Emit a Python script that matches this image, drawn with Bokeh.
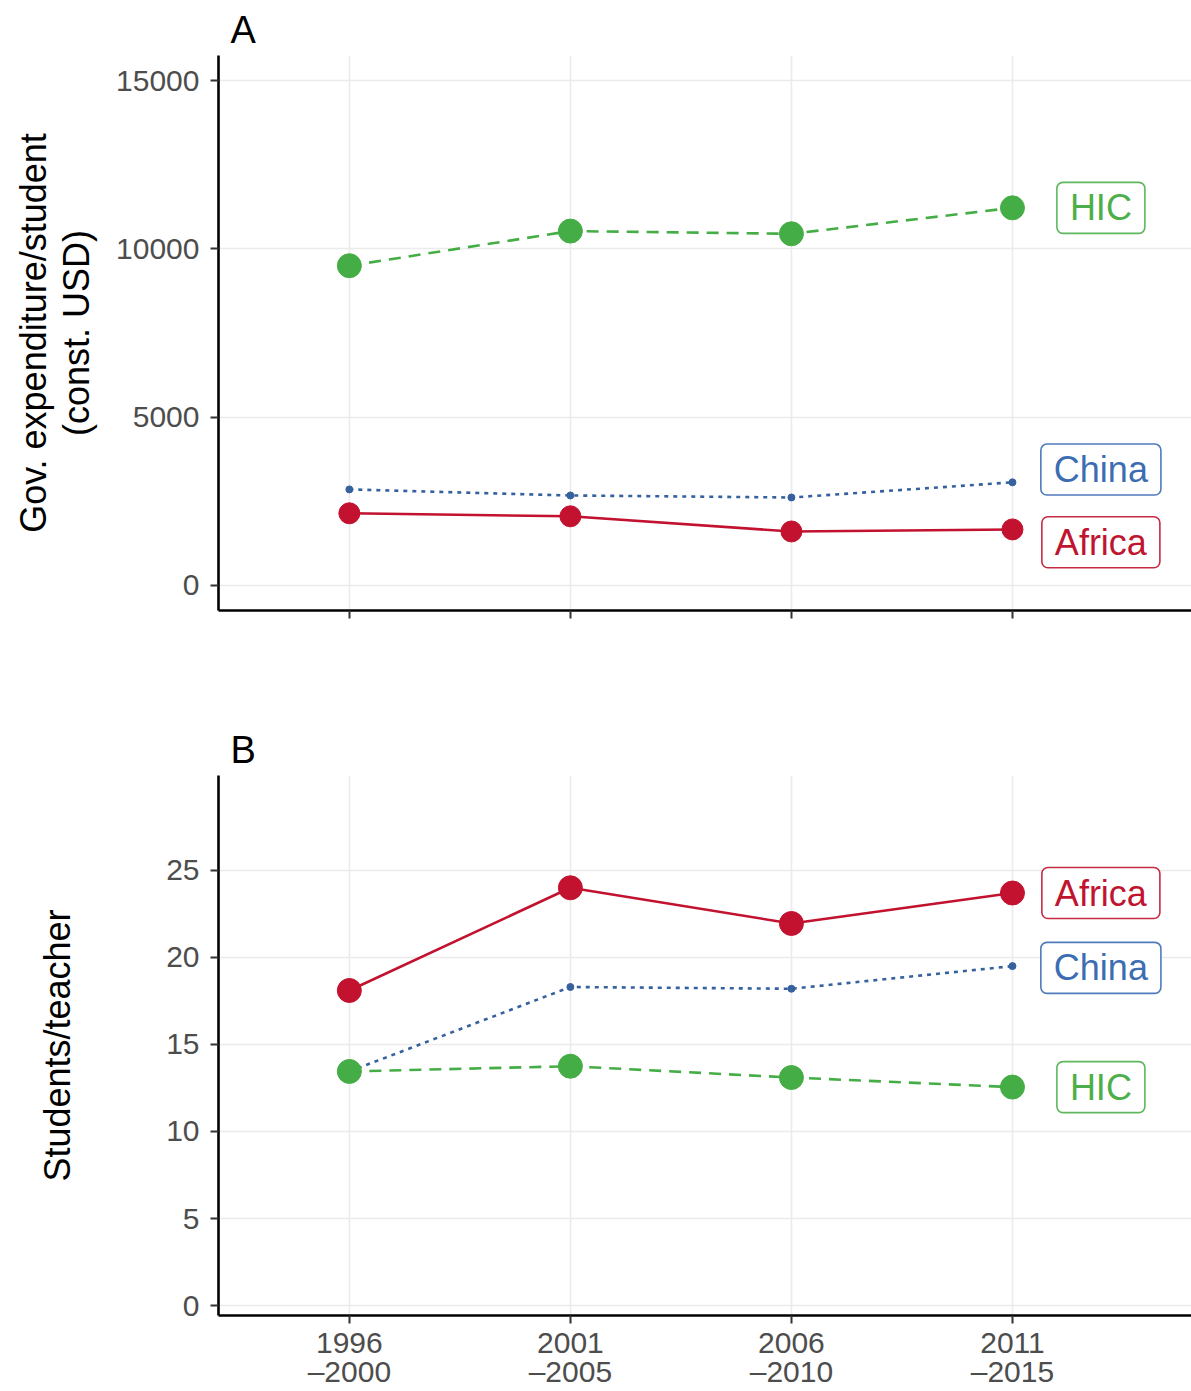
from bokeh.plotting import figure
from bokeh.models import Range1d, FixedTicker, Label, CustomJSTickFormatter
from bokeh.layouts import column
from bokeh.embed import file_html
from bokeh.resources import INLINE

# ---------------- data ----------------
years = [1996, 2001, 2006, 2011]
period_labels = ["1996\n\u20132000", "2001\n\u20132005", "2006\n\u20132010", "2011\n\u20132015"]

series_names = ["HIC", "China", "Africa"]

# Panel A: Gov. expenditure per student (const. USD)
exp_hic = [9500, 10530, 10450, 11220]
exp_china = [2850, 2670, 2610, 3060]
exp_africa = [2140, 2050, 1600, 1660]

# Panel B: students per teacher
ratio_africa = [18.1, 24.0, 21.95, 23.7]
ratio_china = [13.45, 18.3, 18.2, 19.5]
ratio_hic = [13.45, 13.75, 13.1, 12.55]

yticks_a = [0, 5000, 10000, 15000]
yticks_b = [0, 5, 10, 15, 20, 25]

# ---------------- style ----------------
FONT = "Liberation Sans"
GREEN = "#45AD45"
BLUE = "#35629F"
RED = "#C2122F"
TXT_GREEN = "#4DAF4A"
TXT_BLUE = "#3C6DB3"
TXT_RED = "#C0142F"

LABEL_X = 2013.0


def style(p, yticks):
    p.outline_line_color = None
    p.background_fill_color = "white"
    p.border_fill_color = "white"
    for g in (p.xgrid, p.ygrid):
        g.grid_line_color = "#EBEBEB"
        g.grid_line_width = 1.6
    p.xaxis.ticker = FixedTicker(ticks=years)
    p.yaxis.ticker = FixedTicker(ticks=yticks)
    for ax in (p.xaxis, p.yaxis):
        ax.axis_line_color = "black"
        ax.axis_line_width = 2.6
        ax.major_tick_line_color = "#333333"
        ax.major_tick_line_width = 2
        ax.major_tick_out = 8
        ax.major_tick_in = 0
        ax.minor_tick_line_color = None
        ax.major_label_text_font = FONT
        ax.major_label_text_font_size = "30px"
        ax.major_label_text_color = "#4D4D4D"
        ax.axis_label_text_font = FONT
        ax.axis_label_text_font_size = "36px"
        ax.axis_label_text_font_style = "normal"
        ax.axis_label_text_color = "black"
    p.yaxis.major_label_standoff = 11
    p.title.text_font = FONT
    p.title.text_font_size = "38px"
    p.title.text_font_style = "normal"
    p.title.text_color = "black"
    p.title.align = "left"
    p.title.offset = 12
    p.title.standoff = 10


def add_tag(p, y, text, tcolor):
    p.add_layout(Label(x=LABEL_X, y=y, text=text, text_align="center",
                       text_baseline="middle", text_font=FONT,
                       text_font_size="36px", text_color=tcolor,
                       border_line_color=tcolor, border_line_width=1.6,
                       border_line_alpha=0.9,
                       background_fill_color="white", padding=(13, 5),
                       border_radius=6))


# ---------------- panel A ----------------
pA = figure(width=1191, height=648, output_backend="svg", toolbar_location=None,
            x_range=Range1d(1993.04, 2015.05), y_range=Range1d(-750, 15750),
            title="A", min_border_left=218, min_border_right=0,
            min_border_top=55, min_border_bottom=38)
style(pA, yticks_a)
pA.xaxis.formatter = CustomJSTickFormatter(code="return ''")
pA.yaxis.axis_label = "Gov. expenditure/student\n(const. USD)"
pA.yaxis.axis_label_standoff = 16
pA.yaxis.axis_label_text_line_height = 1.05

pA.line(years, exp_hic, line_color=GREEN, line_width=2.6, line_dash="12 8")
pA.scatter(years, exp_hic, size=24, fill_color=GREEN, line_color=GREEN)
pA.line(years, exp_china, line_color=BLUE, line_width=2.6, line_dash="4 5")
pA.scatter(years, exp_china, size=7, fill_color=BLUE, line_color=BLUE)
pA.line(years, exp_africa, line_color=RED, line_width=2.6)
pA.scatter(years, exp_africa, size=21, fill_color=RED, line_color=RED)

add_tag(pA, exp_hic[-1], "HIC", TXT_GREEN)
add_tag(pA, 3440, "China", TXT_BLUE)
add_tag(pA, 1280, "Africa", TXT_RED)

# ---------------- panel B ----------------
pB = figure(width=1191, height=743, output_backend="svg", toolbar_location=None,
            x_range=Range1d(1993.04, 2015.05), y_range=Range1d(-0.57, 30.45),
            title="B", min_border_left=218, min_border_right=0,
            min_border_top=127, min_border_bottom=60)
style(pB, yticks_b)
pB.xaxis.major_label_overrides = {y: lab for y, lab in zip(years, period_labels)}
pB.xaxis.major_label_standoff = 2
pB.xaxis.major_label_text_line_height = 0.9
pB.yaxis.axis_label = "Students/teacher"
pB.yaxis.axis_label_standoff = 85

pB.line(years, ratio_africa, line_color=RED, line_width=2.6)
pB.scatter(years, ratio_africa, size=24, fill_color=RED, line_color=RED)
pB.line(years, ratio_china, line_color=BLUE, line_width=2.6, line_dash="4 5")
pB.scatter(years, ratio_china, size=7, fill_color=BLUE, line_color=BLUE)
pB.line(years, ratio_hic, line_color=GREEN, line_width=2.6, line_dash="12 8")
pB.scatter(years, ratio_hic, size=24, fill_color=GREEN, line_color=GREEN)

add_tag(pB, ratio_africa[-1], "Africa", TXT_RED)
add_tag(pB, 19.4, "China", TXT_BLUE)
add_tag(pB, ratio_hic[-1], "HIC", TXT_GREEN)

layout = column(pA, pB, spacing=0)
open("out.html", "w").write(file_html(layout, INLINE))
